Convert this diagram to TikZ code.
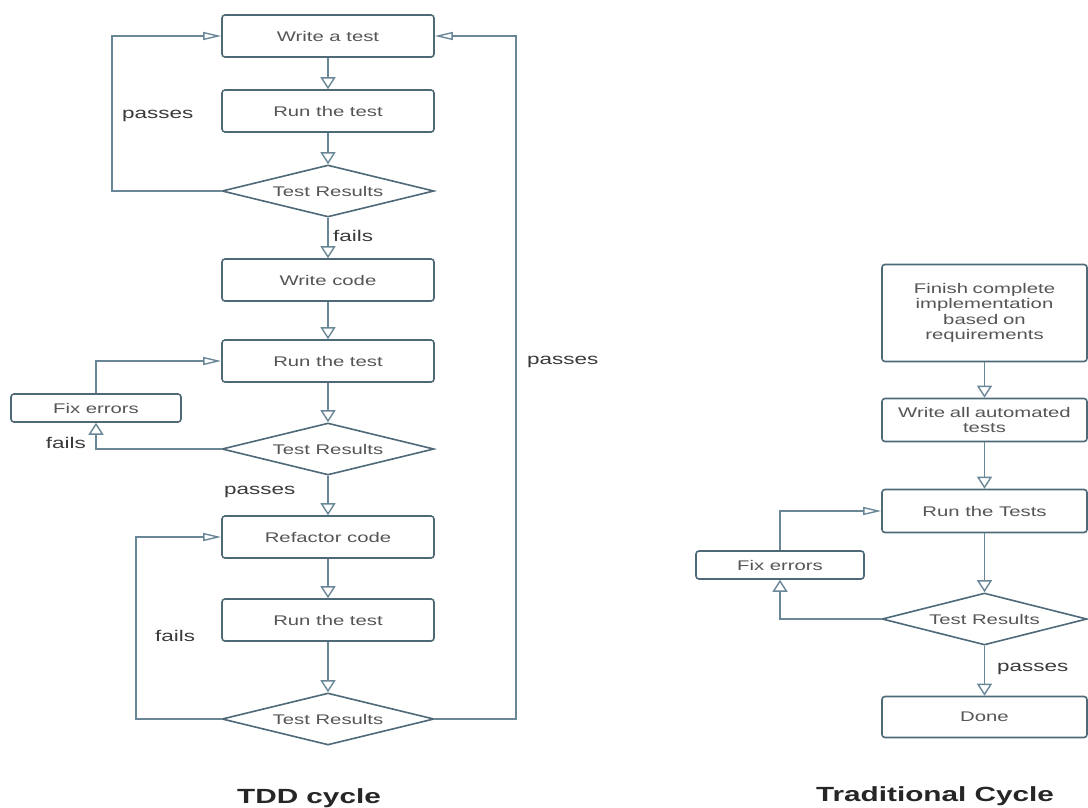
\documentclass[tikz,border=0pt]{standalone}
\usepackage{fontspec}
\setmainfont[FakeStretch=1.45]{Liberation Sans}
\usetikzlibrary{arrows.meta,shapes.geometric}
\definecolor{lnc}{HTML}{6A8797}
\definecolor{bdc}{HTML}{4E6978}
\definecolor{txc}{HTML}{555555}
\definecolor{lbc}{HTML}{3A3A3A}
\definecolor{ttc}{HTML}{262626}
\tikzset{
  stepbox/.style={draw=bdc, line width=1.6pt, rounded corners=3pt, fill=white,
    minimum width=212pt, minimum height=42pt, inner sep=2pt, align=center,
    text=txc, font=\fontsize{14}{15.5}\selectfont},
  decbox/.style={draw=bdc, line width=1.6pt, diamond, aspect=4.08, fill=white,
    minimum width=212pt, minimum height=52pt, inner sep=0pt,
    text=txc, font=\fontsize{14}{15.5}\selectfont},
  lbl/.style={text=lbc, font=\fontsize{15.5}{17}\selectfont, inner sep=0pt},
  ttl/.style={text=ttc, font=\bfseries\fontsize{20.5}{22}\selectfont, inner sep=0pt},
  conn/.style={draw=lnc, line width=1.4pt},
  varr/.style={conn, -{Triangle[open, length=12pt, width=15pt, line width=1.4pt]}},
  harr/.style={conn, -{Triangle[open, length=18pt, width=8pt, line width=1.4pt]}},
}
\begin{document}
\begin{tikzpicture}[x=1pt,y=-1pt]
\useasboundingbox (0,0) rectangle (1088,807);
% TDD cycle
\node[stepbox] (wt) at (328,36) {Write a test};
\node[stepbox] (rt1) at (328,111) {Run the test};
\node[decbox] (d1) at (328,191) {Test Results};
\node[stepbox] (wc) at (328,280) {Write code};
\node[stepbox] (rt2) at (328,361) {Run the test};
\node[stepbox, minimum width=170pt, minimum height=28pt] (fx1) at (96,408) {Fix errors};
\node[decbox] (d2) at (328,449) {Test Results};
\node[stepbox] (rf) at (328,537) {Refactor code};
\node[stepbox] (rt3) at (328,620) {Run the test};
\node[decbox] (d3) at (328,719) {Test Results};

\coordinate (l1) at (112,191);
\coordinate (l3) at (136,719);
\coordinate (r3) at (516,719);

\draw[varr] (wt) -- (rt1);
\draw[varr] (rt1) -- (d1);
\draw[varr] (d1) -- (wc);
\draw[harr] (d1.west) -- (l1) |- (wt.west);
\draw[varr] (wc) -- (rt2);
\draw[varr] (rt2) -- (d2);
\draw[varr] (d2.west) -| (fx1.south);
\draw[harr] (fx1.north) |- (rt2.west);
\draw[varr] (d2) -- (rf);
\draw[varr] (rf) -- (rt3);
\draw[varr] (rt3) -- (d3);
\draw[harr] (d3.west) -- (l3) |- (rf.west);
\draw[harr] (d3.east) -- (r3) |- (wt.east);

\node[lbl, anchor=west] (lp1) at (122,116) {passes};
\node[lbl, anchor=west] (lf1) at (333,236) {fails};
\node[lbl, anchor=east] (lf2) at (86,443) {fails};
\node[lbl, anchor=west] (lp2) at (224,492) {passes};
\node[lbl, anchor=west] (lf3) at (155,636) {fails};
\node[lbl, anchor=west] (lp3) at (527,362) {passes};

% Traditional cycle
\node[stepbox, minimum width=205pt, minimum height=97pt, text width=195pt] (fin) at (984.5,313) {\raisebox{-3pt}{\parbox{195pt}{\centering Finish complete\\implementation\\based on\\requirements}}};
\node[stepbox, minimum width=205pt, minimum height=43pt, text width=200pt] (wat) at (984.5,420) {Write all automated\\tests};
\node[stepbox, minimum width=205pt, minimum height=43pt] (rts) at (984.5,511) {Run the Tests};
\node[stepbox, minimum width=168pt, minimum height=28pt] (fx2) at (780,565) {Fix errors};
\node[decbox, minimum width=205pt, aspect=3.95] (d4) at (984.5,619) {Test Results};
\node[stepbox, minimum width=205pt, minimum height=41pt] (dn) at (984.5,717) {Done};

\draw[varr] (fin) -- (wat);
\draw[varr] (wat) -- (rts);
\draw[varr] (rts) -- (d4);
\draw[varr] (d4.west) -| (fx2.south);
\draw[harr] (fx2.north) |- (rts.west);
\draw[varr] (d4) -- (dn);
\node[lbl, anchor=west] (lp4) at (997,669) {passes};

% titles
\node[ttl] (t1) at (309,798) {TDD cycle};
\node[ttl] (t2) at (935,796) {Traditional Cycle};
\end{tikzpicture}
\end{document}
